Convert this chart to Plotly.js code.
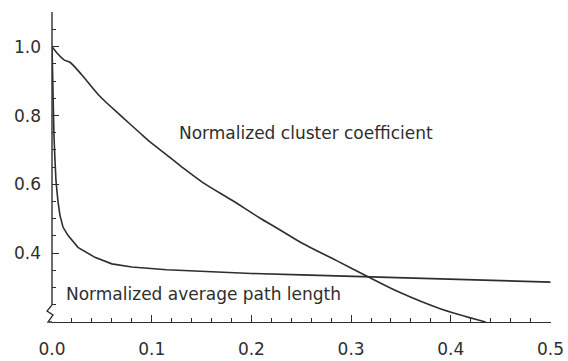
<!DOCTYPE html>
<html>
<head>
<meta charset="utf-8">
<script src="https://cdn.plot.ly/plotly-3.0.1.min.js"></script>
<style>html,body{margin:0;padding:0;background:#fff;}#chart{width:568px;height:361px;}</style>
</head>
<body>
<div id="chart"></div>
<script>
// Normalized cluster coefficient C(p)/C(0)
const clusterX = [0, 0.005, 0.012, 0.018, 0.03, 0.048, 0.07, 0.088, 0.098, 0.115, 0.131, 0.151, 0.181, 0.208, 0.228, 0.251, 0.285, 0.318, 0.348, 0.39, 0.435];
const clusterY = [1.0, 0.982, 0.962, 0.955, 0.918, 0.856, 0.797, 0.750, 0.724, 0.686, 0.649, 0.606, 0.553, 0.503, 0.469, 0.429, 0.379, 0.330, 0.287, 0.238, 0.200];
// Normalized average path length L(p)/L(0)
const pathX = [0, 0.001, 0.002, 0.003, 0.004, 0.006, 0.008, 0.011, 0.016, 0.026, 0.043, 0.06, 0.08, 0.115, 0.15, 0.2, 0.25, 0.3, 0.35, 0.4, 0.45, 0.5];
const pathY = [1.0, 0.84, 0.74, 0.67, 0.61, 0.55, 0.51, 0.476, 0.452, 0.417, 0.388, 0.369, 0.360, 0.352, 0.347, 0.341, 0.337, 0.333, 0.329, 0.324, 0.320, 0.316];
const xTicks = [0, 0.1, 0.2, 0.3, 0.4, 0.5];
const xTickText = ["0.0", "0.1", "0.2", "0.3", "0.4", "0.5"];
const yTicks = [0.4, 0.6, 0.8, 1.0];
const yTickText = ["0.4", "0.6", "0.8", "1.0"];
const labels = ["Normalized cluster coefficient", "Normalized average path length"];

const ink = '#2e2e2e';
const font = {family: 'DejaVu Sans', size: 17, color: ink};

const traces = [
  {x: clusterX, y: clusterY, mode: 'lines', line: {color: ink, width: 1.6, shape: 'spline', smoothing: 0.8}, hoverinfo: 'skip'},
  {x: pathX, y: pathY, mode: 'lines', line: {color: ink, width: 1.6}, hoverinfo: 'skip'}
];

// break symbol (zigzag) in paper units at bottom-left corner
const W = 499, H = 310;
const px = v => v / W, py = v => v / H;
const zig = `M ${px(0)} ${py(17)} L ${px(-5)} ${py(11)} L ${px(1)} ${py(7)} L ${px(-4)} ${py(0)} L ${px(0)} ${py(0)}`;

const layout = {
  width: 568, height: 361,
  margin: {l: 52, r: 17, t: 12, b: 39},
  paper_bgcolor: '#fff', plot_bgcolor: '#fff',
  showlegend: false,
  font: font,
  xaxis: {
    range: [0, 0.5005], showgrid: false, zeroline: false,
    showline: true, linecolor: ink, linewidth: 1.4,
    tickmode: 'array', tickvals: xTicks, ticktext: xTickText,
    ticks: 'inside', ticklen: 7, tickwidth: 1.2, tickcolor: ink,
    ticklabelstandoff: 11,
    minor: {dtick: 0.02, tick0: 0, ticks: 'inside', ticklen: 4, tickwidth: 1, tickcolor: ink, showgrid: false},
    tickfont: font
  },
  yaxis: {
    range: [0.2, 1.101], showgrid: false, zeroline: false,
    showline: false,
    tickmode: 'array', tickvals: yTicks, ticktext: yTickText,
    ticks: 'inside', ticklen: 7, tickwidth: 1.2, tickcolor: ink,
    ticklabelstandoff: 10,
    minor: {dtick: 0.05, tick0: 0, ticks: 'inside', ticklen: 4, tickwidth: 1, tickcolor: ink, showgrid: false},
    tickfont: font
  },
  shapes: [
    {type: 'line', xref: 'paper', yref: 'paper', x0: 0, x1: 0, y0: py(17), y1: 1, line: {color: ink, width: 1.4}},
    {type: 'path', xref: 'paper', yref: 'paper', path: zig, line: {color: ink, width: 1.3}}
  ],
  annotations: [
    {x: 0.255, y: 0.748, xref: 'x', yref: 'y', text: labels[0], showarrow: false, font: font},
    {x: 0.152, y: 0.28, xref: 'x', yref: 'y', text: labels[1], showarrow: false, font: font}
  ]
};

Plotly.newPlot('chart', traces, layout, {staticPlot: true, displayModeBar: false});
</script>
</body>
</html>
